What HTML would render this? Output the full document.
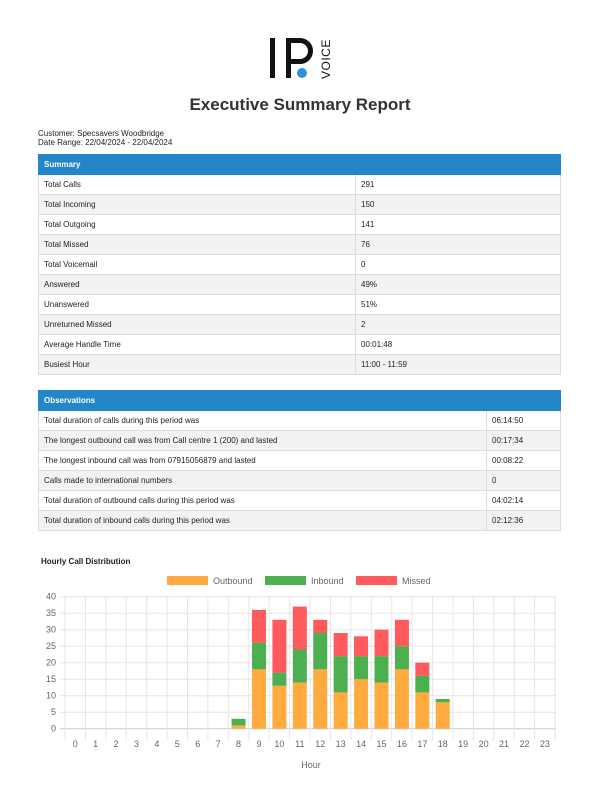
<!DOCTYPE html>
<html><head><meta charset="utf-8"><style>
body{margin:0;width:600px;height:812px;background:#fff;font-family:"Liberation Sans",Arial,sans-serif;color:#222;position:relative;overflow:hidden}
.abs{position:absolute}
table{border-collapse:collapse;position:absolute;left:38px;width:523px;font-size:8px}
td{border:1px solid #ddd;padding:0 0 0 5px;height:19px}
tr.h td{background:#2386c8;color:#fff;font-weight:bold;border-color:#2386c8}
tr:nth-child(odd):not(.h) td{background:#f2f2f2}
</style></head><body>
<svg class="abs" style="left:0;top:0" width="600" height="100">
<rect x="270" y="38" width="5" height="40" fill="#111"/>
<rect x="286" y="38" width="5" height="40" fill="#111"/>
<path d="M288 40.5 H300 A10.5 10.5 0 0 1 300 61.5 H288" fill="none" stroke="#111" stroke-width="5"/>
<circle cx="302" cy="73" r="5" fill="#2f8fd8"/>
<text transform="translate(330,79) rotate(-90)" font-family="Liberation Sans, sans-serif" font-size="12" letter-spacing="0.5" fill="#111">VOICE</text>
</svg>
<div class="abs" style="left:0;width:600px;top:95px;text-align:center;font-size:17px;font-weight:bold;color:#333">Executive Summary Report</div>
<div class="abs" style="left:38px;top:129px;font-size:8px;line-height:9px">Customer: Specsavers Woodbridge<br>Date Range: 22/04/2024 - 22/04/2024</div>
<table style="top:154px">
<tr class="h"><td colspan="2">Summary</td></tr>
<tr><td style="width:311px">Total Calls</td><td>291</td></tr>
<tr><td>Total Incoming</td><td>150</td></tr>
<tr><td>Total Outgoing</td><td>141</td></tr>
<tr><td>Total Missed</td><td>76</td></tr>
<tr><td>Total Voicemail</td><td>0</td></tr>
<tr><td>Answered</td><td>49%</td></tr>
<tr><td>Unanswered</td><td>51%</td></tr>
<tr><td>Unreturned Missed</td><td>2</td></tr>
<tr><td>Average Handle Time</td><td>00:01:48</td></tr>
<tr><td>Busiest Hour</td><td>11:00 - 11:59</td></tr>
</table>
<table style="top:390px">
<tr class="h"><td colspan="2">Observations</td></tr>
<tr><td style="width:442px">Total duration of calls during this period was</td><td>06:14:50</td></tr>
<tr><td>The longest outbound call was from Call centre 1 (200) and lasted</td><td>00:17:34</td></tr>
<tr><td>The longest inbound call was from 07915056879 and lasted</td><td>00:08:22</td></tr>
<tr><td>Calls made to international numbers</td><td>0</td></tr>
<tr><td>Total duration of outbound calls during this period was</td><td>04:02:14</td></tr>
<tr><td>Total duration of inbound calls during this period was</td><td>02:12:36</td></tr>
</table>
<div class="abs" style="left:41px;top:557px;font-size:8px;font-weight:bold">Hourly Call Distribution</div>
<svg class="abs" style="left:0;top:0" width="600" height="812" font-family="Liberation Sans, sans-serif" font-size="9" fill="#666">
<rect x="167" y="576" width="41" height="9" fill="#ffab40"/><text x="213" y="584">Outbound</text>
<rect x="265" y="576" width="41" height="9" fill="#4caf50"/><text x="311" y="584">Inbound</text>
<rect x="356" y="576" width="41" height="9" fill="#ff5a5e"/><text x="402" y="584">Missed</text>
<g id="g"></g>
</svg>
<script>
var g=document.getElementById('g'),s='';
var y0=728.7,k=3.3,x0=65,w=20.42;
for(var i=0;i<=8;i++){var y=y0-i*5*k;s+='<line x1="60" x2="556" y1="'+y+'" y2="'+y+'" stroke="'+(i==0?'#ccc':'#e6e6e6')+'"/>';s+='<text x="56" y="'+(y+3)+'" text-anchor="end">'+(i*5)+'</text>';}
for(var i=0;i<=24;i++){var x=x0+i*w;s+='<line x1="'+x+'" x2="'+x+'" y1="597" y2="'+(y0+12)+'" stroke="#e6e6e6"/>';}
for(var i=0;i<24;i++){s+='<text x="'+(x0+i*w+w/2)+'" y="747" text-anchor="middle">'+i+'</text>';}
s+='<text x="311" y="768" text-anchor="middle">Hour</text>';
var d={8:[1,2,0],9:[18,8,10],10:[13,4,16],11:[14,10,13],12:[18,11,4],13:[11,11,7],14:[15,7,6],15:[14,8,8],16:[18,7,8],17:[11,5,4],18:[8,1,0]};
var c=['#ffab40','#4caf50','#ff5a5e'];
for(var h in d){var b=0,x=x0+h*w+3.2;for(var j=0;j<3;j++){var v=d[h][j];if(v){s+='<rect x="'+x+'" width="14" y="'+(y0-(b+v)*k)+'" height="'+(v*k)+'" fill="'+c[j]+'"/>';}b+=v;}}
g.innerHTML=s;
</script>
</body></html>
